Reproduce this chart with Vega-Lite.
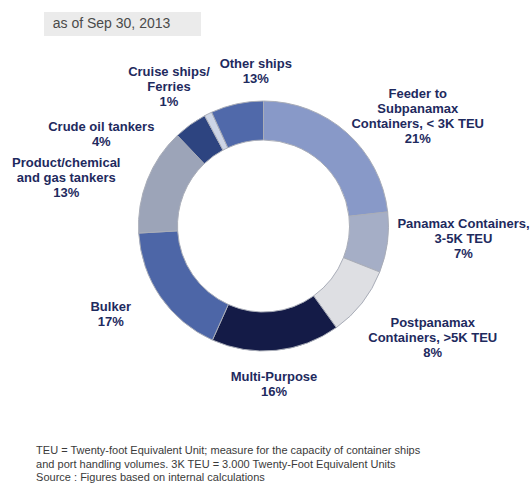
{
  "$schema": "https://vega.github.io/schema/vega-lite/v6.json",
  "padding": {"left": 12, "top": 12, "right": 3, "bottom": 4},
  "spacing": 10,
  "bounds": "flush",
  "config": {
    "view": {"stroke": null},
    "font": "Liberation Sans",
    "text": {"fontSize": 13, "fontWeight": "bold", "color": "#1e2a5e", "lineHeight": 15, "align": "center", "baseline": "middle"}
  },
  "title": {
    "text": [
      "TEU = Twenty-foot Equivalent Unit; measure for the capacity of container ships",
      "and port handling volumes. 3K TEU = 3.000 Twenty-Foot Equivalent Units",
      "Source : Figures based on internal calculations"
    ],
    "orient": "bottom", "anchor": "start", "frame": "bounds",
    "fontSize": 11, "fontWeight": "normal", "color": "#3a3a3a", "lineHeight": 13.5,
    "offset": 8, "dx": 24
  },
  "vconcat": [
    {
      "width": 157, "height": 24,
      "view": {"fill": "#ebebeb", "stroke": null},
      "data": {"values": [{"note": "as of Sep 30, 2013"}]},
      "mark": {"type": "text", "fontSize": 14, "fontWeight": "normal", "color": "#4a4a4a", "dx": -11},
      "encoding": {"text": {"field": "note", "type": "nominal"}}
    },
    {
      "width": 439, "height": 360,
      "data": {"values": [
        {"segment": "Feeder to Subpanamax Containers", "seq": 1, "share": 23.2, "label": ["Feeder to", "Subpanamax", "Containers, < 3K TEU", "21%"]},
        {"segment": "Panamax Containers", "seq": 2, "share": 7.8, "label": ["Panamax Containers,", "3-5K TEU", "7%"]},
        {"segment": "Postpanamax Containers", "seq": 3, "share": 9.1, "label": ["Postpanamax", "Containers, >5K TEU", "8%"]},
        {"segment": "Multi-Purpose", "seq": 4, "share": 16.6, "label": ["Multi-Purpose", "16%"]},
        {"segment": "Bulker", "seq": 5, "share": 17.4, "label": ["Bulker", "17%"]},
        {"segment": "Product/chemical and gas tankers", "seq": 6, "share": 13.8, "label": ["Product/chemical", "and gas tankers", "13%"]},
        {"segment": "Crude oil tankers", "seq": 7, "share": 4.3, "label": ["Crude oil tankers", "4%"]},
        {"segment": "Cruise ships/Ferries", "seq": 8, "share": 1.0, "label": ["Cruise ships/", "Ferries", "1%"]},
        {"segment": "Other ships", "seq": 9, "share": 6.8, "label": ["Other ships", "13%"]}
      ]},
      "encoding": {
        "theta": {"field": "share", "type": "quantitative", "stack": true},
        "order": {"field": "seq", "type": "quantitative"},
        "detail": {"field": "segment", "type": "nominal"}
      },
      "layer": [
        {
          "mark": {"type": "arc", "outerRadius": 125, "innerRadius": 86, "stroke": "#a9adb8", "strokeWidth": 1},
          "encoding": {
            "color": {
              "field": "segment", "type": "nominal", "legend": null,
              "scale": {
                "domain": ["Feeder to Subpanamax Containers", "Panamax Containers", "Postpanamax Containers", "Multi-Purpose", "Bulker", "Product/chemical and gas tankers", "Crude oil tankers", "Cruise ships/Ferries", "Other ships"],
                "range": ["#8899c8", "#a5aec6", "#dedfe3", "#141b47", "#4d66a7", "#9ca4b8", "#2d4480", "#cdd5e6", "#5069aa"]
              }
            }
          }
        },
        {"mark": {"type": "text", "radius": 203, "thetaOffset": 0.134}, "encoding": {"text": {"condition": {"test": "datum.seq == 1", "field": "label", "type": "nominal"}, "value": ""}}},
        {"mark": {"type": "text", "radius": 200, "thetaOffset": -0.143}, "encoding": {"text": {"condition": {"test": "datum.seq == 2", "field": "label", "type": "nominal"}, "value": ""}}},
        {"mark": {"type": "text", "radius": 195, "thetaOffset": -0.143}, "encoding": {"text": {"condition": {"test": "datum.seq == 3", "field": "label", "type": "nominal"}, "value": ""}}},
        {"mark": {"type": "text", "radius": 151, "thetaOffset": 0.031}, "encoding": {"text": {"condition": {"test": "datum.seq == 4", "field": "label", "type": "nominal"}, "value": ""}}},
        {"mark": {"type": "text", "radius": 173, "thetaOffset": 0.115}, "encoding": {"text": {"condition": {"test": "datum.seq == 5", "field": "label", "type": "nominal"}, "value": ""}}},
        {"mark": {"type": "text", "radius": 207, "thetaOffset": -0.068}, "encoding": {"text": {"condition": {"test": "datum.seq == 6", "field": "label", "type": "nominal"}, "value": ""}}},
        {"mark": {"type": "text", "radius": 190, "thetaOffset": -0.398}, "encoding": {"text": {"condition": {"test": "datum.seq == 7", "field": "label", "type": "nominal"}, "value": ""}}},
        {"mark": {"type": "text", "radius": 181, "thetaOffset": -0.091}, "encoding": {"text": {"condition": {"test": "datum.seq == 8", "field": "label", "type": "nominal"}, "value": ""}}},
        {"mark": {"type": "text", "radius": 162, "thetaOffset": 0.166}, "encoding": {"text": {"condition": {"test": "datum.seq == 9", "field": "label", "type": "nominal"}, "value": ""}}}
      ]
    }
  ]
}
